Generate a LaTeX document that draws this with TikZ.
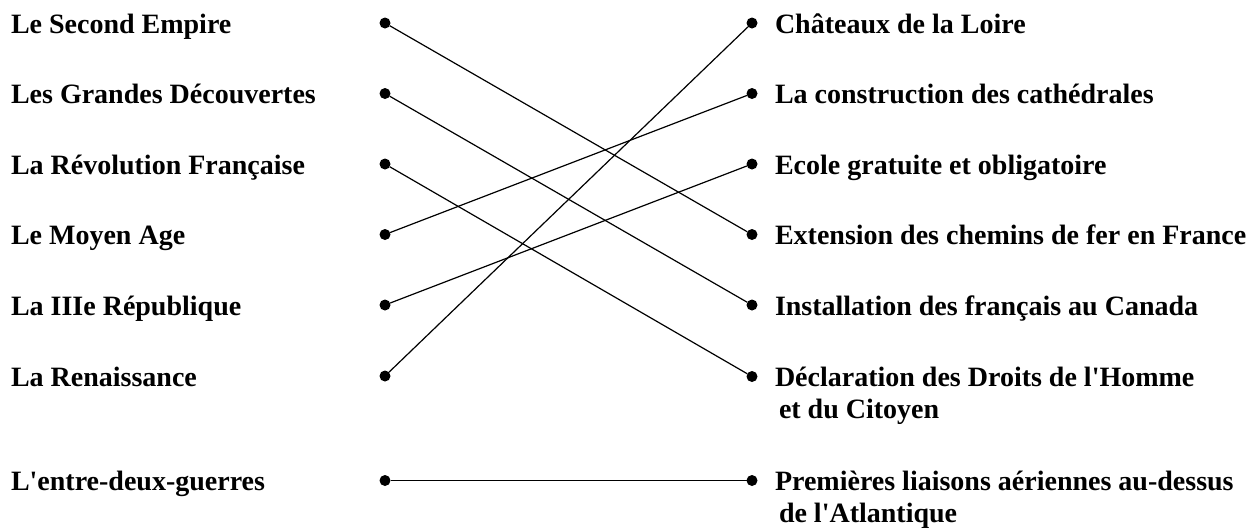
\documentclass[tikz,border=0pt]{standalone}
\usepackage{fontspec}
\setmainfont{Liberation Serif}
\usepackage{tikz}
\usetikzlibrary{positioning}
\tikzstyle{every node}=[font=\bfseries\fontsize{14}{16}\selectfont]
\tikzset{DotStyle/.style = {
			      shape          = circle,
			      fill           = black,
			      inner sep      = 0pt,
			      outer sep      = 0pt,
			      minimum size   = 5.5pt}
			      }
\tikzset{EdgeStyle/.style   = {line width=0.6pt,-}}
\tikzset{LabelStyle/.style =   {
				  text           = black,
				  inner sep      = 0pt,
				  outer sep      = 0pt,
				  anchor         = base west,
				  align          = left}
				  }
\begin{document}
\begin{tikzpicture}[x=0.5pt,y=-0.5pt]
		\useasboundingbox (0,0) rectangle (1250,527);
		% left column
		\draw (11,33) node[LabelStyle] (A1) {Le Second Empire};
		\draw (11,103.5) node[LabelStyle] (A2) {Les Grandes D\'ecouvertes};
		\draw (11,174) node[LabelStyle] (A3) {La R\'evolution Fran\c{c}aise};
		\draw (11,244.5) node[LabelStyle] (A4) {Le Moyen Age};
		\draw (11,315) node[LabelStyle] (A5) {La IIIe R\'epublique};
		\draw (11,386) node[LabelStyle] (A6) {La Renaissance};
		\draw (11,490) node[LabelStyle] (A7) {L\textquotesingle entre-deux-guerres};
		% right column (multi-line labels sit on their last baseline)
		\draw (775,33) node[LabelStyle] (B1) {Ch\^ateaux de la Loire};
		\draw (775,103.5) node[LabelStyle] (B2) {La construction des cath\'edrales};
		\draw (775,174) node[LabelStyle] (B3) {Ecole gratuite et obligatoire};
		\draw (775,244.5) node[LabelStyle] (B4) {Extension des chemins de fer en France};
		\draw (775,315) node[LabelStyle] (B5) {Installation des fran\c{c}ais au Canada};
		\draw (775,418) node[LabelStyle] (B6) {D\'eclaration des Droits de l\textquotesingle Homme\\\hspace{2pt}et du Citoyen};
		\draw (775,522) node[LabelStyle] (B7) {Premi\`eres liaisons a\'eriennes au-dessus\\\hspace{2pt}de l\textquotesingle Atlantique};

		% dots
		\draw (385,23) node[DotStyle] (L1) {};
		\draw (385,93.5) node[DotStyle] (L2) {};
		\draw (385,164) node[DotStyle] (L3) {};
		\draw (385,234.5) node[DotStyle] (L4) {};
		\draw (385,305) node[DotStyle] (L5) {};
		\draw (385,376) node[DotStyle] (L6) {};
		\draw (385,480.5) node[DotStyle] (L7) {};
		\draw (752,23) node[DotStyle] (R1) {};
		\draw (752,93.5) node[DotStyle] (R2) {};
		\draw (752,164) node[DotStyle] (R3) {};
		\draw (752,234.5) node[DotStyle] (R4) {};
		\draw (752,305) node[DotStyle] (R5) {};
		\draw (752,376.5) node[DotStyle] (R6) {};
		\draw (752,480.5) node[DotStyle] (R7) {};

		\draw[EdgeStyle] (L1) to (R4);
		\draw[EdgeStyle] (L2) to (R5);
		\draw[EdgeStyle] (L3) to (R6);
		\draw[EdgeStyle] (L4) to (R2);
		\draw[EdgeStyle] (L5) to (R3);
		\draw[EdgeStyle] (L6) to (R1);
		\draw[EdgeStyle] (L7) to (R7);
\end{tikzpicture}
\end{document}
